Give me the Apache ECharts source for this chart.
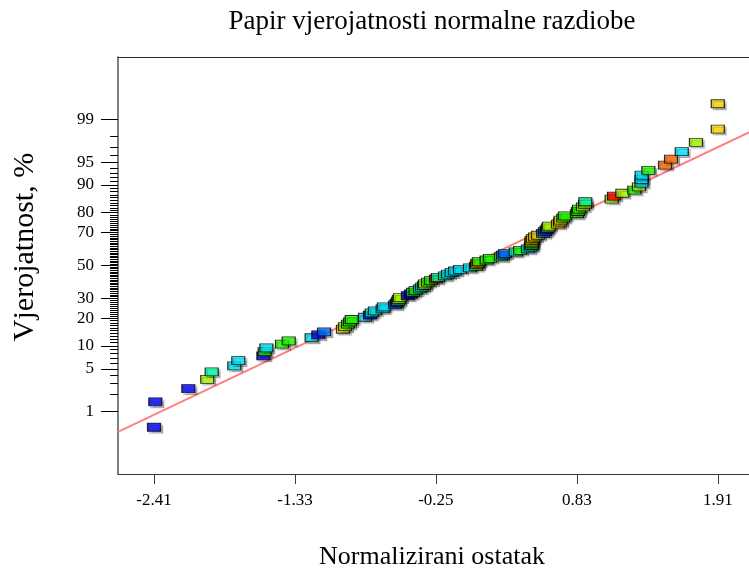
<!DOCTYPE html>
<html>
<head>
<meta charset="utf-8">
<script src="https://cdn.jsdelivr.net/npm/echarts@6/dist/echarts.min.js"></script>
<style>
html,body{margin:0;padding:0;background:#fff;overflow:hidden;}
#chart{width:749px;height:572px;}
</style>
</head>
<body>
<div id="chart"></div>
<script>
// ---- data ----
const titleText = 'Papir vjerojatnosti normalne razdiobe';
const xAxisName = 'Normalizirani ostatak';
const yAxisName = 'Vjerojatnost, %';

// x tick labels (normalised residual)
const xTicks = [-2.41, -1.33, -0.25, 0.83, 1.91];
// labelled probability ticks (%)
const yTickPct = [1, 5, 10, 20, 30, 50, 70, 80, 90, 95, 99];
// minor probability ticks (%), one per whole percent
const yMinorPct = [];
for (let p = 1; p <= 99; p++) yMinorPct.push(p);

// sorted normalised residuals (rank order)
const residuals = [
 -2.41,-2.40,-2.147,-2.002,-1.968,-1.795,-1.764,-1.572,-1.562,-1.549,
 -1.429,-1.378,-1.202,-1.151,-1.107,-0.962,-0.946,-0.923,-0.908,-0.895,
 -0.793,-0.755,-0.742,-0.717,-0.658,-0.648,-0.563,-0.550,-0.540,-0.533,
 -0.525,-0.464,-0.441,-0.425,-0.405,-0.372,-0.356,-0.341,-0.333,-0.310,
 -0.287,-0.249,-0.234,-0.180,-0.157,-0.129,-0.103,-0.065,0.011,0.057,
 0.065,0.069,0.080,0.139,0.165,0.249,0.264,0.280,0.362,0.395,
 0.456,0.477,0.484,0.484,0.484,0.484,0.494,0.510,0.533,0.571,
 0.586,0.599,0.609,0.617,0.686,0.701,0.706,0.726,0.739,0.831,
 0.839,0.847,0.877,0.893,0.895,1.097,1.115,1.179,1.270,1.306,
 1.326,1.326,1.327,1.378,1.506,1.552,1.634,1.743,1.91,1.91
];
// colour group of each point (response level, low -> high)
const groups = [
 'B','B','B','Y','A','C','C','B','G','C',
 'G','G','C','B','D','O','Y','G','G','G',
 'C','B','A','C','C','C','D','B','G','Y',
 'Y','B','B','G','G','C','C','Y','Y','G',
 'G','X','A','A','C','C','C','C','C','G',
 'O','R','G','G','G','G','D','D','A','G',
 'C','C','G','G','O','O','O','O','O','D',
 'D','B','Y','Y','O','O','O','G','G','G',
 'G','G','Y','Y','A','Y','X','Y','G','Y',
 'C','C','C','G','R','R','C','Y','O','O'
];
// reference (fitted) line, endpoints in residual / normal-score units
const fitX = [-2.686, 2.678];
const fitZ = [-2.648, 2.641];

// ---- styling ----
const palette = {
  B:'#0000ff', D:'#0070ff', C:'#00e5ff', A:'#00ffa8', G:'#22ff00',
  Y:'#aaff00', O:'#ffdd00', R:'#ff6a00', X:'#ff0000'
};
const FONT = 'Liberation Serif';

// inverse standard normal CDF (Acklam) – probability axis transform
function normInv(p){
  const a=[-3.969683028665376e+01,2.209460984245205e+02,-2.759285104469687e+02,1.383577518672690e+02,-3.066479806614716e+01,2.506628277459239e+00];
  const b=[-5.447609879822406e+01,1.615858368580409e+02,-1.556989798598866e+02,6.680131188771972e+01,-1.328068155288572e+01];
  const c=[-7.784894002430293e-03,-3.223964580411365e-01,-2.400758277161838e+00,-2.549732539343734e+00,4.374664141464968e+00,2.938163982698783e+00];
  const d=[7.784695709041462e-03,3.224671290700398e-01,2.445134137142996e+00,3.754408661907416e+00];
  const pl=0.02425, ph=1-pl; let q,r;
  if(p<pl){q=Math.sqrt(-2*Math.log(p));return (((((c[0]*q+c[1])*q+c[2])*q+c[3])*q+c[4])*q+c[5])/((((d[0]*q+d[1])*q+d[2])*q+d[3])*q+1);}
  if(p<=ph){q=p-0.5;r=q*q;return (((((a[0]*r+a[1])*r+a[2])*r+a[3])*r+a[4])*r+a[5])*q/(((((b[0]*r+b[1])*r+b[2])*r+b[3])*r+b[4])*r+1);}
  q=Math.sqrt(-2*Math.log(1-p));return -(((((c[0]*q+c[1])*q+c[2])*q+c[3])*q+c[4])*q+c[5])/((((d[0]*q+d[1])*q+d[2])*q+d[3])*q+1);
}

const n = residuals.length;
// plotting position of rank i: (i-0.5)/n on the normal-probability scale
const points = residuals.map((r,i)=>({
  value:[r, normInv((i+0.5)/n)],
  itemStyle:{color: palette[groups[i]]}
}));
const majorZ = yTickPct.map(p=>normInv(p/100));
const minorZ = yMinorPct.map(p=>normInv(p/100));

const X_MIN = -2.686, X_MAX = 2.678, Z_MIN = -3.32, Z_MAX = 3.32;

const chart = echarts.init(document.getElementById('chart'), null, {renderer:'canvas'});
chart.setOption({
  animation:false,
  backgroundColor:'#fff',
  grid:{left:118, top:57, width:700, height:417, outerBoundsMode:'none', containLabel:false, show:false},
  xAxis:[{
    type:'value', min:X_MIN, max:X_MAX, position:'bottom',
    axisLine:{show:true, onZero:false, lineStyle:{color:'#3a3a3a', width:1}},
    axisTick:{show:true, customValues:xTicks, length:10, lineStyle:{color:'#3a3a3a'}},
    axisLabel:{show:true, customValues:xTicks, formatter:v=>v.toFixed(2), margin:18,
      color:'#000', fontFamily:FONT, fontSize:17},
    splitLine:{show:false}
  },{
    type:'value', min:X_MIN, max:X_MAX, position:'top',
    axisLine:{show:true, onZero:false, lineStyle:{color:'#2a2a2a', width:1.2}},
    axisTick:{show:false}, axisLabel:{show:false}, splitLine:{show:false}
  }],
  yAxis:[{
    type:'value', min:Z_MIN, max:Z_MAX, position:'left',
    axisLine:{show:true, onZero:false, lineStyle:{color:'#555', width:1.5}},
    axisTick:{show:true, customValues:minorZ, length:8, lineStyle:{color:'#000', width:1}},
    axisLabel:{show:false},
    splitLine:{show:false}
  },{
    type:'value', min:Z_MIN, max:Z_MAX, position:'left', offset:0,
    axisLine:{show:false, onZero:false},
    axisTick:{show:true, customValues:majorZ, length:17, lineStyle:{color:'#000', width:1}},
    axisLabel:{show:true, customValues:majorZ, margin:24, color:'#000', fontFamily:FONT, fontSize:17,
      formatter:v=>{let bi=0,bd=1e9;majorZ.forEach((z,i)=>{const dd=Math.abs(z-v);if(dd<bd){bd=dd;bi=i;}});return String(yTickPct[bi]);}},
    splitLine:{show:false}
  }],
  series:[{
    type:'line', data:[[fitX[0],fitZ[0]],[fitX[1],fitZ[1]]], symbol:'none', silent:true,
    lineStyle:{color:'#ff8080', width:2}, z:1
  },{
    type:'scatter', data:points, symbol:'rect', symbolSize:[13,8], z:2,
    itemStyle:{borderColor:'#000', borderWidth:1, shadowColor:'rgba(0,0,0,0.3)', shadowBlur:1, shadowOffsetX:2, shadowOffsetY:2}
  }],
  graphic:[
    {type:'text', style:{text:titleText, font:'27px "'+FONT+'"', fill:'#000', textAlign:'center', textVerticalAlign:'middle'}, x:432, y:22},
    {type:'text', style:{text:xAxisName, font:'26px "'+FONT+'"', fill:'#000', textAlign:'center', textVerticalAlign:'middle'}, x:432, y:557},
    {type:'text', style:{text:yAxisName, font:'30px "'+FONT+'"', fill:'#000', textAlign:'center', textVerticalAlign:'middle'}, x:25, y:247, rotation:Math.PI/2},
    {type:'rect', shape:{x:747, y:58, width:3, height:66}, style:{fill:'#fff'}, z:100, silent:true},
    {type:'rect', shape:{x:747, y:140, width:3, height:333}, style:{fill:'#fff'}, z:100, silent:true}
  ]
});
</script>
</body>
</html>
